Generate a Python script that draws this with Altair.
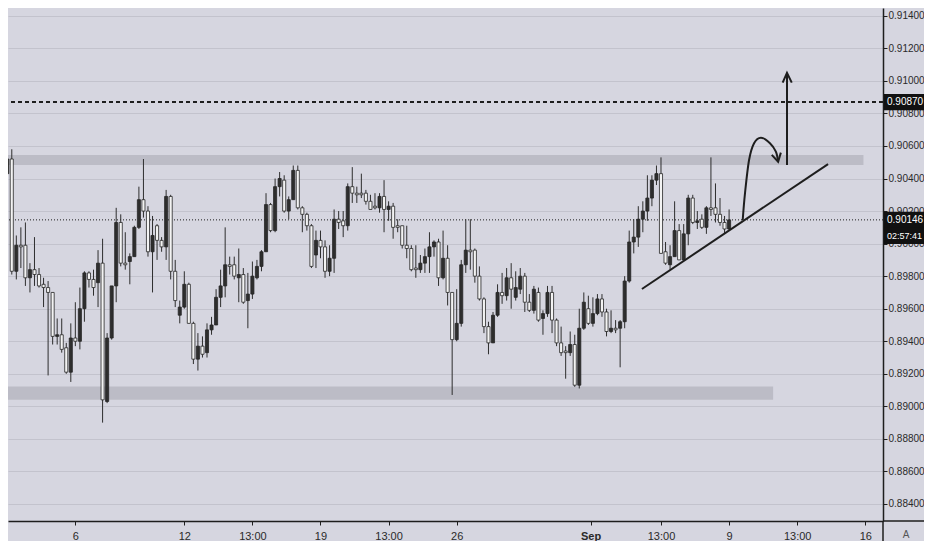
import altair as alt
import pandas as pd

# 4h candles, index 0 = first bar on the left
opens = [0.9058, 0.9043, 0.9052, 0.8983, 0.8999, 0.8999, 0.8979, 0.8984, 0.8981, 0.8975,
         0.8973, 0.8970, 0.8943, 0.8944, 0.8936, 0.8921, 0.8942, 0.8940, 0.8960, 0.8982,
         0.8978, 0.8976, 0.8988, 0.8903, 0.8942, 0.8974, 0.9013, 0.8988, 0.8989, 0.8992,
         0.9010, 0.9027, 0.9020, 0.8995, 0.9011, 0.9002, 0.8998, 0.9029, 0.8983, 0.8956,
         0.8961, 0.8975, 0.8951, 0.8929, 0.8937, 0.8933, 0.8947, 0.8950, 0.8967, 0.8974,
         0.8987, 0.8987, 0.8979, 0.8981, 0.8965, 0.8969, 0.8979, 0.8986, 0.8995, 0.9024,
         0.9008, 0.9035, 0.9039, 0.9020, 0.9027, 0.9045, 0.9022, 0.9018, 0.9011, 0.8993,
         0.9002, 0.8998, 0.8983, 0.8991, 0.9015, 0.9014, 0.9011, 0.9035, 0.9031, 0.9031,
         0.9031, 0.9026, 0.9023, 0.9022, 0.9029, 0.9021, 0.9023, 0.9011, 0.9011, 0.8999,
         0.8997, 0.8985, 0.8984, 0.8988, 0.8992, 0.8998, 0.9001, 0.8979, 0.8991, 0.8970,
         0.8941, 0.8951, 0.8987, 0.8996, 0.8996, 0.8980, 0.8966, 0.8949, 0.8939, 0.8956,
         0.8970, 0.8968, 0.8979, 0.8967, 0.8972, 0.8980, 0.8964, 0.8959, 0.8970, 0.8954,
         0.8957, 0.8970, 0.8953, 0.8939, 0.8934, 0.8933, 0.8938, 0.8913, 0.8948, 0.8960,
         0.8951, 0.8957, 0.8966, 0.8958, 0.8946, 0.8948, 0.8948, 0.8952, 0.8977, 0.9001,
         0.9004, 0.9015, 0.9020, 0.9028, 0.9039, 0.9043, 0.8995, 0.8987, 0.8992, 0.9008,
         0.8990, 0.9006, 0.9028, 0.9013, 0.9015, 0.9010, 0.9022, 0.9022, 0.9018, 0.9013,
         0.9009]
highs = [0.9061, 0.9068, 0.9058, 0.9005, 0.9010, 0.9013, 0.8988, 0.9004, 0.8985, 0.8979,
         0.8977, 0.8970, 0.8954, 0.8954, 0.8939, 0.8951, 0.8964, 0.8973, 0.8983, 0.8983,
         0.8984, 0.8996, 0.9003, 0.8945, 0.8974, 0.9022, 0.9018, 0.9007, 0.8994, 0.9011,
         0.9035, 0.9052, 0.9023, 0.9017, 0.9012, 0.9004, 0.9033, 0.9030, 0.8990, 0.8965,
         0.8983, 0.8976, 0.8952, 0.8945, 0.8943, 0.8951, 0.8955, 0.8972, 0.8984, 0.9010,
         0.8992, 0.8992, 0.8997, 0.8985, 0.8982, 0.8989, 0.8990, 0.8996, 0.9031, 0.9025,
         0.9040, 0.9044, 0.9042, 0.9029, 0.9048, 0.9048, 0.9023, 0.9019, 0.9012, 0.9008,
         0.9008, 0.9002, 0.8999, 0.9021, 0.9020, 0.9020, 0.9037, 0.9047, 0.9035, 0.9043,
         0.9033, 0.9030, 0.9031, 0.9031, 0.9039, 0.9026, 0.9025, 0.9015, 0.9011, 0.9011,
         0.8999, 0.8999, 0.8993, 0.8997, 0.9007, 0.9002, 0.9003, 0.9008, 0.8999, 0.8970,
         0.8972, 0.8990, 0.9015, 0.9015, 0.8997, 0.8986, 0.8967, 0.8952, 0.8958, 0.8975,
         0.8982, 0.8985, 0.8988, 0.8983, 0.8985, 0.8982, 0.8969, 0.8974, 0.8973, 0.8959,
         0.8974, 0.8974, 0.8954, 0.8949, 0.8937, 0.8946, 0.8944, 0.8960, 0.8970, 0.8968,
         0.8967, 0.8969, 0.8969, 0.8960, 0.8959, 0.8953, 0.8953, 0.8980, 0.9008, 0.9015,
         0.9023, 0.9026, 0.9042, 0.9042, 0.9048, 0.9053, 0.9001, 0.8999, 0.9026, 0.9012,
         0.9012, 0.9030, 0.9030, 0.9020, 0.9018, 0.9023, 0.9053, 0.9037, 0.9028, 0.9017,
         0.9021]
lows = [0.9041, 0.9042, 0.8981, 0.8978, 0.8985, 0.8974, 0.8970, 0.8974, 0.8973, 0.8961,
        0.8919, 0.8938, 0.8938, 0.8933, 0.8920, 0.8915, 0.8937, 0.8935, 0.8952, 0.8973,
        0.8968, 0.8961, 0.8890, 0.8902, 0.8941, 0.8964, 0.8986, 0.8984, 0.8975, 0.8992,
        0.9009, 0.9016, 0.8992, 0.8970, 0.8990, 0.8995, 0.8990, 0.8978, 0.8961, 0.8951,
        0.8960, 0.8951, 0.8926, 0.8922, 0.8930, 0.8930, 0.8944, 0.8950, 0.8961, 0.8967,
        0.8981, 0.8978, 0.8964, 0.8963, 0.8948, 0.8966, 0.8978, 0.8983, 0.8995, 0.9007,
        0.9007, 0.9029, 0.9019, 0.9015, 0.9027, 0.9021, 0.9007, 0.9008, 0.8985, 0.8985,
        0.8991, 0.8979, 0.8980, 0.8982, 0.9009, 0.9004, 0.9008, 0.9025, 0.9025, 0.9028,
        0.9024, 0.9021, 0.9021, 0.9019, 0.9007, 0.9014, 0.9003, 0.9007, 0.8997, 0.8991,
        0.8983, 0.8979, 0.8982, 0.8982, 0.8982, 0.8992, 0.8974, 0.8978, 0.8962, 0.8907,
        0.8940, 0.8949, 0.8982, 0.8984, 0.8976, 0.8965, 0.8945, 0.8932, 0.8939, 0.8955,
        0.8963, 0.8965, 0.8960, 0.8965, 0.8969, 0.8958, 0.8958, 0.8957, 0.8952, 0.8944,
        0.8955, 0.8945, 0.8937, 0.8931, 0.8917, 0.8931, 0.8912, 0.8911, 0.8947, 0.8950,
        0.8949, 0.8956, 0.8955, 0.8943, 0.8945, 0.8945, 0.8924, 0.8948, 0.8976, 0.8994,
        0.8998, 0.9007, 0.9014, 0.9023, 0.9036, 0.8994, 0.8987, 0.8984, 0.8992, 0.8990,
        0.8990, 0.8999, 0.9012, 0.9009, 0.9009, 0.9006, 0.9017, 0.9013, 0.9011, 0.9006,
        0.9008]
closes = [0.9044, 0.9052, 0.8983, 0.8999, 0.8998, 0.8979, 0.8984, 0.8981, 0.8974, 0.8973,
          0.8970, 0.8943, 0.8944, 0.8935, 0.8921, 0.8942, 0.8940, 0.8960, 0.8982, 0.8978,
          0.8973, 0.8988, 0.8904, 0.8942, 0.8974, 0.9013, 0.8988, 0.8987, 0.8992, 0.9010,
          0.9027, 0.9020, 0.8995, 0.9005, 0.9002, 0.8998, 0.9029, 0.8983, 0.8965, 0.8961,
          0.8975, 0.8951, 0.8929, 0.8937, 0.8932, 0.8947, 0.8950, 0.8967, 0.8974, 0.8987,
          0.8986, 0.8980, 0.8981, 0.8964, 0.8969, 0.8980, 0.8986, 0.8995, 0.9024, 0.9008,
          0.9035, 0.9040, 0.9020, 0.9027, 0.9045, 0.9022, 0.9018, 0.9011, 0.8986, 0.9002,
          0.8998, 0.8983, 0.8991, 0.9015, 0.9013, 0.9011, 0.9035, 0.9031, 0.9030, 0.9030,
          0.9026, 0.9021, 0.9022, 0.9029, 0.9021, 0.9023, 0.9010, 0.9010, 0.8999, 0.8997,
          0.8984, 0.8984, 0.8988, 0.8992, 0.8998, 0.9001, 0.8979, 0.8991, 0.8970, 0.8941,
          0.8951, 0.8987, 0.8996, 0.8995, 0.8980, 0.8966, 0.8949, 0.8939, 0.8956, 0.8970,
          0.8968, 0.8979, 0.8972, 0.8973, 0.8980, 0.8964, 0.8959, 0.8972, 0.8953, 0.8957,
          0.8970, 0.8953, 0.8939, 0.8933, 0.8933, 0.8938, 0.8913, 0.8948, 0.8964, 0.8951,
          0.8957, 0.8966, 0.8958, 0.8946, 0.8948, 0.8947, 0.8952, 0.8977, 0.9001, 0.9004,
          0.9015, 0.9020, 0.9028, 0.9039, 0.9043, 0.8994, 0.8988, 0.8992, 0.9008, 0.8990,
          0.9006, 0.9028, 0.9013, 0.9014, 0.9010, 0.9022, 0.9021, 0.9018, 0.9013, 0.9009,
          0.90146]

# time axis (bar index) and price axis
tick_pos = [16, 40, 55, 70, 85, 100, 129.5, 145, 160, 175, 190]
tick_text = ['6', '12', '13:00', '19', '13:00', '26', 'Sep', '13:00', '9', '13:00', '16']
price_ticks = [0.884, 0.886, 0.888, 0.890, 0.892, 0.894, 0.896, 0.898,
               0.900, 0.902, 0.904, 0.906, 0.908, 0.910, 0.912, 0.914]

# drawings
zones = pd.DataFrame({
    'x0': [-2, -2],
    'x1': [189.6, 169.7],
    'lo': [0.90483, 0.89040],
    'hi': [0.90545, 0.89122],
})
resistance = 0.9087
last_price = 0.90146
countdown = '02:57:41'
trend_x = [140.8, 181.8]
trend_y = [0.89721, 0.90489]
curve_x = [163.0, 163.5, 164.4, 165.5, 167.0, 169.0, 170.3, 170.8]
curve_y = [0.90145, 0.90309, 0.90514, 0.90617, 0.90651, 0.90617, 0.90565, 0.90503]
arrow_x = 172.75
arrow_lo, arrow_hi = 0.90483, 0.91049
heads_x = [169.4, 170.8, 171.4, 171.8, 172.75, 173.8]
heads_y = [0.90545, 0.90503, 0.90559, 0.90989, 0.91049, 0.90989]
heads_seg = [0, 0, 0, 1, 1, 1]

FONT = 'Liberation Sans'
BG = '#d6d6e0'
INK = '#1e1e1e'

W, H = 875, 513
RIGHT = 41
x_dom = [1.167, 193.9]
y_dom = [0.882955, 0.914479]

candles = pd.DataFrame({'i': range(len(opens)), 'o': opens, 'h': highs, 'l': lows, 'c': closes})

label_expr = "[" + ",".join("'%s'" % t for t in tick_text) + "][indexof([" + \
    ",".join(str(p) for p in tick_pos) + "], datum.value)]"


def xenc(field):
    return alt.X(field, type='quantitative',
                 scale=alt.Scale(domain=x_dom, nice=False, zero=False),
                 axis=alt.Axis(values=tick_pos, labelExpr=label_expr, title=None, grid=False,
                               tickSize=4, tickColor=INK, domainColor=INK, domainWidth=1.5,
                               labelPadding=5, labelFontSize=11, labelColor='#2a2a2a',
                               labelFont=FONT, labelOverlap=False, labelFlush=False,
                               labelFontWeight={"condition": {"test": "datum.value == 129.5", "value": "bold"},
                                                "value": "normal"}))


def yenc(field):
    return alt.Y(field, type='quantitative',
                 scale=alt.Scale(domain=y_dom, nice=False, zero=False),
                 axis=alt.Axis(orient='right', values=price_ticks, format='.5f', title=None,
                               grid=True, gridColor='#c3c3cd', gridWidth=1,
                               tickSize=4, tickColor=INK, domainColor=INK, domainWidth=1.5,
                               labelPadding=1, labelFontSize=10, labelColor='#2a2a2a',
                               labelFont=FONT, labelOverlap=False, labelFlush=False))


base = alt.Chart(candles)

zone_layer = alt.Chart(zones).mark_rect(color='#bcbcc6', clip=True).encode(
    x=xenc('x0'), x2='x1', y=yenc('lo'), y2='hi'
)

wicks = base.mark_rule(color='#2e2e2e', strokeWidth=1, clip=True).encode(
    x=xenc('i'), y=yenc('l'), y2='h'
)

bodies = base.transform_calculate(
    left='datum.i - 0.34', right='datum.i + 0.34'
).mark_rect(stroke='#262626', strokeWidth=0.8, clip=True).encode(
    x=xenc('left'), x2='right', y=yenc('o'), y2='c',
    fill=alt.condition('datum.c >= datum.o', alt.value('#2e2e2e'), alt.value('#f3f3f3'))
)

levels = pd.DataFrame({'p': [resistance, last_price], 'kind': ['res', 'last']})
res_line = alt.Chart(levels).transform_filter("datum.kind == 'res'").mark_rule(
    color=INK, strokeWidth=2, strokeDash=[4, 3]
).encode(y=yenc('p'))
last_line = alt.Chart(levels).transform_filter("datum.kind == 'last'").mark_rule(
    color=INK, strokeWidth=1, strokeDash=[1, 2]
).encode(y=yenc('p'))

trend = alt.Chart(pd.DataFrame({'x': trend_x, 'y': trend_y})).mark_line(
    color=INK, strokeWidth=2, clip=True
).encode(x=xenc('x'), y=yenc('y'))

curve = alt.Chart(pd.DataFrame({'x': curve_x, 'y': curve_y, 'k': range(len(curve_x))})).mark_line(
    color=INK, strokeWidth=2, interpolate='cardinal', clip=True
).encode(x=xenc('x'), y=yenc('y'), order='k:Q')

shaft = alt.Chart(pd.DataFrame({'x': [arrow_x], 'lo': [arrow_lo], 'hi': [arrow_hi]})).mark_rule(
    color=INK, strokeWidth=2
).encode(x=xenc('x'), y=yenc('lo'), y2='hi')

heads = alt.Chart(pd.DataFrame({'x': heads_x, 'y': heads_y, 'seg': heads_seg,
                                'k': range(len(heads_x))})).mark_line(
    color=INK, strokeWidth=2, strokeJoin='miter'
).encode(x=xenc('x'), y=yenc('y'), detail='seg:N', order='k:Q')

# price tags on the right scale
tags = pd.DataFrame({
    'p': [resistance, last_price, last_price - 0.00098],
    'txt': ['%.5f' % resistance, '%.5f' % last_price, countdown],
    'fs': [10, 10, 9],
})
tag_boxes = alt.Chart(tags).transform_calculate(
    lo='datum.p - 0.00050', hi='datum.p + 0.00050'
).mark_rect(color='#111111', clip=False).encode(
    x=alt.value(W + 1), x2=alt.value(W + RIGHT), y=yenc('lo'), y2='hi'
)
tag_text = alt.Chart(tags).mark_text(
    align='left', baseline='middle', color='white', font=FONT, clip=False
).encode(x=alt.value(W + 4), y=yenc('p'), text='txt:N',
         size=alt.Size('fs:Q', scale=None, legend=None))

frame = alt.Chart(pd.DataFrame({'a': [0]})).mark_rule(color=INK, strokeWidth=1.5, clip=False).encode(
    x=alt.value(W), y=alt.value(H), y2=alt.value(H + 22)
) + alt.Chart(pd.DataFrame({'a': [0]})).mark_rule(color=INK, strokeWidth=1.5, clip=False).encode(
    x=alt.value(W), x2=alt.value(W + RIGHT), y=alt.value(H)
)
auto_btn = alt.Chart(pd.DataFrame({'t': ['A']})).mark_text(
    fontSize=10, color='#555555', font=FONT, clip=False
).encode(x=alt.value(W + 23), y=alt.value(H + 14), text='t:N')

chart = alt.layer(
    zone_layer, res_line, last_line, wicks, bodies, trend, curve, shaft, heads,
    tag_boxes, tag_text, frame, auto_btn
).properties(
    width=W, height=H,
    autosize=alt.AutoSizeParams(type='none'),
    padding={'left': 0, 'top': 0, 'right': RIGHT, 'bottom': 20},
    background=BG
).configure_view(strokeWidth=0)

chart.save("out.html", embed_options={"renderer": "svg", "actions": False})
